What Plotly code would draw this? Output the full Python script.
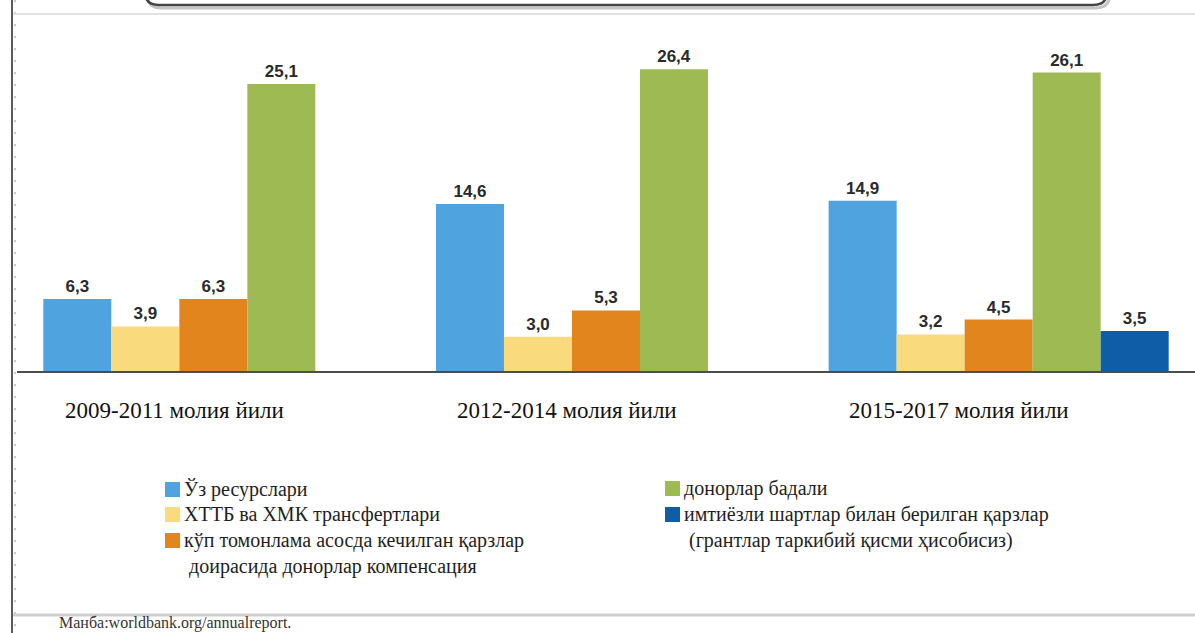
import plotly.graph_objects as go

# Financing sources by fiscal-year period (billion USD)
periods = ["2009-2011 молия йили", "2012-2014 молия йили", "2015-2017 молия йили"]

series_names = [
    "Ўз ресурслари",
    "ХТТБ ва ХМК трансфертлари",
    "кўп томонлама асосда кечилган қарзлар<br>доирасида донорлар компенсация",
    "донорлар бадали",
    "имтиёзли шартлар билан берилган қарзлар<br>(грантлар таркибий қисми ҳисобисиз)",
]

own_resources = [6.3, 14.6, 14.9]
ibrd_ifc_transfers = [3.9, 3.0, 3.2]
mdri_compensation = [6.3, 5.3, 4.5]
donor_contributions = [25.1, 26.4, 26.1]
concessional_loans = [None, None, 3.5]

series_values = [own_resources, ibrd_ifc_transfers, mdri_compensation,
                 donor_contributions, concessional_loans]
series_colors = ["#4FA3DF", "#F9DB7E", "#E2851D", "#9DBB52", "#0F5DA6"]

W, H = 1195, 633
ML, MR, MT, MB = 17, 0, 20, 262
PW, PH = W - ML - MR, H - MT - MB

SERIF = "Liberation Serif"
TEXT_DARK = "#1e1e1e"


def px(x):
    return (x - ML) / PW


def py(y):
    return (H - MB - y) / PH


fig = go.Figure()
for name, vals, color in zip(series_names, series_values, series_colors):
    fig.add_trace(go.Bar(
        x=periods, y=vals, name=name.replace("<br>", " "),
        marker=dict(color=color, line=dict(width=0)),
        texttemplate="%{y:.1f}", textposition="outside",
        textfont=dict(family="Liberation Sans Narrow, Liberation Sans, sans-serif",
                      size=17, color="#2a2a2a", weight="bold"),
        cliponaxis=False, showlegend=False,
    ))

annotations = []
shapes = []

# Category captions, set slightly left of each group's centre
for i, label in enumerate(periods):
    annotations.append(dict(
        x=i - 0.1, xref="x", y=py(411), yref="paper",
        text=label, showarrow=False, xanchor="center", yanchor="middle",
        font=dict(family=SERIF, size=23, color="#111111"),
    ))

# Two-column key: (square left x, first row centre y) per entry
key_slots = [(165, 489), (165, 514), (165, 540), (665, 488), (665, 514)]
ROW = 26
for name, color, (kx, ky) in zip(series_names, series_colors, key_slots):
    shapes.append(dict(type="rect", xref="paper", yref="paper",
                       x0=px(kx), x1=px(kx + 15), y0=py(ky - 7), y1=py(ky + 8),
                       fillcolor=color, line=dict(width=0)))
    for j, line in enumerate(name.split("<br>")):
        annotations.append(dict(
            x=px(kx + 17 + (5 if j else 0)), xref="paper",
            y=py(ky + j * ROW), yref="paper",
            text=line, showarrow=False, xanchor="left", yanchor="middle",
            font=dict(family=SERIF, size=20, color=TEXT_DARK),
        ))

annotations.append(dict(
    x=px(57), xref="paper", y=py(612), yref="paper",
    text="Манба:worldbank.org/annualreport.", showarrow=False,
    xanchor="left", yanchor="top",
    font=dict(family=SERIF, size=16, color="#333333"),
))

shapes += [
    # page frame on the left with ruler ticks
    dict(type="line", xref="paper", yref="paper", x0=px(12), x1=px(12), y0=py(0), y1=py(H),
         line=dict(color="#5a5a5a", width=2)),
    dict(type="line", xref="paper", yref="paper", x0=px(15), x1=px(15), y0=py(0), y1=py(H),
         line=dict(color="#c8c8c8", width=2, dash="2px,10px")),
    # thin rule at the top
    dict(type="line", xref="paper", yref="paper", x0=px(13), x1=px(W), y0=py(14), y1=py(14),
         line=dict(color="#e2e2e2", width=2)),
    # rule above the source line
    dict(type="line", xref="paper", yref="paper", x0=px(13), x1=px(W), y0=py(615), y1=py(615),
         line=dict(color="#cfcfcf", width=3)),
    # shadow of the heading frame
    dict(type="path", xref="paper", yref="paper",
         path=(f"M {px(147)},{py(-6)} Q {px(147)},{py(8)} {px(161)},{py(8)} "
               f"L {px(1095)},{py(8)} Q {px(1110)},{py(8)} {px(1110)},{py(-6)}"),
         line=dict(color="#c4c4c4", width=3)),
    # heading frame (lower edge)
    dict(type="path", xref="paper", yref="paper",
         path=(f"M {px(145)},{py(-8)} Q {px(145)},{py(5)} {px(159)},{py(5)} "
               f"L {px(1093)},{py(5)} Q {px(1107)},{py(5)} {px(1107)},{py(-8)}"),
         line=dict(color="#444444", width=2.5)),
]

fig.update_layout(
    width=W, height=H, autosize=False,
    margin=dict(l=ML, r=MR, t=MT, b=MB),
    font=dict(family=SERIF, size=18, color=TEXT_DARK),
    paper_bgcolor="white", plot_bgcolor="white",
    barmode="group", bargap=0.134, bargroupgap=0,
    separators=", ",
    showlegend=False,
    xaxis=dict(type="category", range=[-0.5, 2.5], showticklabels=False, ticks="",
               showline=True, linecolor="#4d4d4d", linewidth=2, showgrid=False,
               zeroline=False, fixedrange=True),
    yaxis=dict(range=[0, 30.7], visible=False, showgrid=False, zeroline=False,
               fixedrange=True),
    annotations=annotations,
    shapes=shapes,
)

fig.write_html("out.html")
